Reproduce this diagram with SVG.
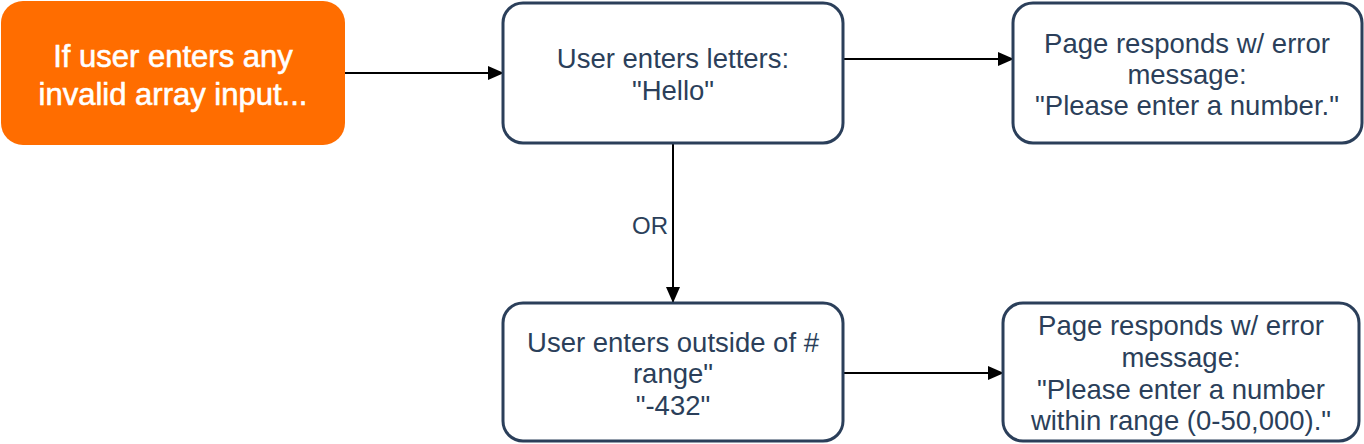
<svg xmlns="http://www.w3.org/2000/svg" width="1364" height="444" viewBox="0 0 1364 444">
<defs>
<marker id="ah" markerWidth="16" markerHeight="16" refX="15" refY="7" orient="auto" markerUnits="userSpaceOnUse" viewBox="0 0 16 14">
<path d="M0,0 L16,7 L0,14 z" fill="#000"/>
</marker>
<style>
.box{fill:#fff;stroke:#2b3f5a;stroke-width:3}
.t{font-family:"Liberation Sans",Arial,sans-serif;font-size:27.5px;fill:#2b3f5a;text-anchor:middle}
.w{font-family:"Liberation Sans",Arial,sans-serif;font-size:31px;fill:#fff;stroke:#fff;stroke-width:0.6;text-anchor:middle}
.c{stroke:#000;stroke-width:2;fill:none;marker-end:url(#ah)}
</style>
</defs>
<rect width="1364" height="444" fill="#fff"/>
<g id="connectors">
<line class="c" x1="345" y1="73" x2="503" y2="73"/>
<line class="c" x1="843" y1="59" x2="1013" y2="59"/>
<line class="c" x1="673" y1="144" x2="673" y2="302"/>
<line class="c" x1="843" y1="373" x2="1003" y2="373"/>
<text class="t" x="650" y="234" style="font-size:24px">OR</text>
</g>
<g id="start">
<rect x="1" y="1" width="344" height="144" rx="22" fill="#ff6d00"/>
<text class="w" x="173" y="67">If user enters any</text>
<text class="w" x="173" y="105">invalid array input...</text>
</g>
<g id="letters">
<rect class="box" x="503" y="3" width="340" height="140" rx="20"/>
<text class="t" x="673" y="68">User enters letters:</text>
<text class="t" x="673" y="100">"Hello"</text>
</g>
<g id="err1">
<rect class="box" x="1013" y="3" width="349" height="140" rx="20"/>
<text class="t" x="1187" y="53">Page responds w/ error</text>
<text class="t" x="1187" y="84">message:</text>
<text class="t" x="1187" y="115">"Please enter a number."</text>
</g>
<g id="range">
<rect class="box" x="503" y="303" width="340" height="138" rx="20"/>
<text class="t" x="673" y="352">User enters outside of #</text>
<text class="t" x="673" y="383">range"</text>
<text class="t" x="673" y="415">"-432"</text>
</g>
<g id="err2">
<rect class="box" x="1003" y="303" width="356" height="138" rx="20"/>
<text class="t" x="1181" y="335">Page responds w/ error</text>
<text class="t" x="1181" y="367">message:</text>
<text class="t" x="1181" y="399">"Please enter a number</text>
<text class="t" x="1181" y="430">within range (0-50,000)."</text>
</g>
</svg>
